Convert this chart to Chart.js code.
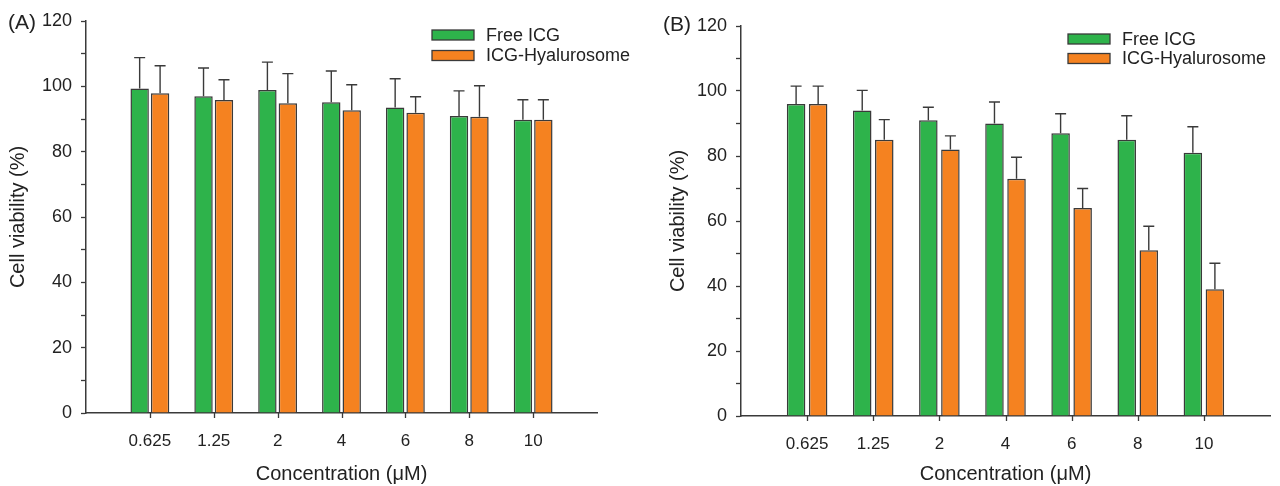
<!DOCTYPE html>
<html>
<head>
<meta charset="utf-8">
<script src="https://cdn.jsdelivr.net/npm/chart.js@4"></script>
<style>
body { margin: 0; background: #fff; }
.panel { position: absolute; top: 0; width: 640px; height: 486px; }
</style>
</head>
<body>
<div class="panel" style="left:0"><canvas id="chartA" width="640" height="486"></canvas></div>
<div class="panel" style="left:640px"><canvas id="chartB" width="640" height="486"></canvas></div>
<script>
// concentrations (uM)
const concentrations = ['0.625', '1.25', '2', '4', '6', '8', '10'];

// panel A
const freeA = [99.3, 97.0, 98.9, 95.1, 93.5, 90.9, 89.8];
const freeErrA = [9.5, 8.6, 8.5, 9.6, 8.8, 7.7, 6.1];
const hyaA = [97.9, 95.8, 94.8, 92.7, 91.9, 90.7, 89.8];
const hyaErrA = [8.4, 6.2, 9.1, 7.8, 4.9, 9.5, 6.1];

// panel B
const freeB = [96, 94, 91, 90, 87, 85, 81];
const freeErrB = [5.5, 6.2, 4.0, 6.6, 6.0, 7.4, 8.0];
const hyaB = [96, 85, 82, 73, 64, 51, 39];
const hyaErrB = [5.5, 6.2, 4.2, 6.6, 6.0, 7.4, 8.0];

const yMin = 0, yMax = 120, yStep = 10, yLabelStep = 20;

const GREEN = '#2eb34b';
const ORANGE = '#f58220';
const INK = '#222';
const LINE = '#3a3a3a';
const FONT = '"Liberation Sans", Arial, sans-serif';

Chart.defaults.font.family = FONT;
Chart.defaults.color = INK;

// one empty slot before and after the real categories
const pad = arr => [null, ...arr, null];

const errorBars = {
    id: 'errorBars',
    afterDatasetsDraw(chart) {
        const ctx = chart.ctx;
        const y = chart.scales.y;
        ctx.save();
        ctx.strokeStyle = LINE;
        ctx.lineWidth = 1.4;
        chart.data.datasets.forEach((ds, i) => {
            chart.getDatasetMeta(i).data.forEach((bar, j) => {
                const v = ds.data[j];
                if (v == null) return;
                const top = y.getPixelForValue(v + ds.errors[j]);
                ctx.beginPath();
                ctx.moveTo(bar.x, bar.y);
                ctx.lineTo(bar.x, top);
                ctx.moveTo(bar.x - 5.5, top);
                ctx.lineTo(bar.x + 5.5, top);
                ctx.stroke();
            });
        });
        ctx.restore();
    }
};

// x tick marks only under the real categories
const xTicks = {
    id: 'xTicks',
    afterDraw(chart) {
        const ctx = chart.ctx;
        const x = chart.scales.x;
        ctx.save();
        ctx.strokeStyle = LINE;
        ctx.lineWidth = 1.3;
        chart.data.labels.forEach((l, i) => {
            if (l === '') return;
            const px = Math.round(x.getPixelForTick(i)) + 0.5;
            ctx.beginPath();
            ctx.moveTo(px, x.top);
            ctx.lineTo(px, x.top + 5);
            ctx.stroke();
        });
        ctx.restore();
    }
};

const annotate = {
    id: 'annotate',
    afterDraw(chart, args, opts) {
        const ctx = chart.ctx;
        ctx.save();
        ctx.textBaseline = 'middle';
        ctx.fillStyle = INK;
        ctx.font = '21px ' + FONT;
        ctx.fillText(opts.panel, opts.panelX, opts.panelY);
        ctx.font = '18px ' + FONT;
        chart.data.datasets.forEach((ds, i) => {
            const y = opts.legendY + i * opts.legendGap;
            ctx.fillStyle = ds.backgroundColor;
            ctx.fillRect(opts.legendX, y - 5, 42, 10);
            ctx.strokeStyle = LINE;
            ctx.lineWidth = 1.3;
            ctx.strokeRect(opts.legendX, y - 5, 42, 10);
            ctx.fillStyle = INK;
            ctx.fillText(ds.label, opts.legendX + 54, y + 1);
        });
        ctx.restore();
    }
};

function makePanel(id, free, freeErr, hya, hyaErr, cfg) {
    const labels = ['', ...concentrations, ''];
    return new Chart(document.getElementById(id), {
        type: 'bar',
        data: {
            labels: labels,
            datasets: [{
                label: 'Free ICG',
                data: pad(free),
                errors: pad(freeErr),
                backgroundColor: GREEN,
                borderColor: LINE,
                borderWidth: 1.5,
                categoryPercentage: cfg.catPct,
                barPercentage: cfg.barPct
            }, {
                label: 'ICG-Hyalurosome',
                data: pad(hya),
                errors: pad(hyaErr),
                backgroundColor: ORANGE,
                borderColor: LINE,
                borderWidth: 1.5,
                categoryPercentage: cfg.catPct,
                barPercentage: cfg.barPct
            }]
        },
        options: {
            responsive: false,
            animation: false,
            devicePixelRatio: 1,
            layout: { padding: cfg.padding, autoPadding: false },
            plugins: {
                legend: { display: false },
                tooltip: { enabled: false },
                annotate: cfg.annotate
            },
            scales: {
                x: {
                    type: 'category',
                    offset: false,
                    grid: { display: false, offset: false },
                    border: { display: true, color: LINE, width: 1.5 },
                    ticks: { autoSkip: false, maxRotation: 0, padding: 10, font: { size: 17 }, color: INK },
                    title: { display: true, text: 'Concentration (μM)', font: { size: 20 }, color: INK, padding: { top: 0, bottom: 0 } },
                    afterFit: s => { s.height = cfg.xHeight; }
                },
                y: {
                    min: yMin,
                    max: yMax,
                    grid: { drawOnChartArea: false, drawTicks: true, tickLength: 5, tickWidth: 1.3, tickColor: LINE },
                    border: { color: LINE, width: 1.5 },
                    ticks: {
                        stepSize: yStep,
                        autoSkip: false,
                        padding: 9,
                        font: { size: 18 },
                        color: INK,
                        callback: v => (v % yLabelStep === 0 ? v : '')
                    },
                    title: { display: true, text: 'Cell viability (%)', font: { size: 20 }, color: INK, padding: { top: 6, bottom: 0 } },
                    afterFit: s => { s.width = cfg.yWidth; }
                }
            }
        },
        plugins: [errorBars, xTicks, annotate]
    });
}

makePanel('chartA', freeA, freeErrA, hyaA, hyaErrA, {
    padding: { left: 0, right: 43, top: 21, bottom: 0 },
    xHeight: 73,
    yWidth: 86,
    catPct: 0.64,
    barPct: 0.9,
    annotate: { panel: '(A)', panelX: 8, panelY: 23, legendX: 432, legendY: 35, legendGap: 20.5 }
});

makePanel('chartB', freeB, freeErrB, hyaB, hyaErrB, {
    padding: { left: 20, right: 10, top: 26, bottom: 0 },
    xHeight: 70,
    yWidth: 81,
    catPct: 0.667,
    barPct: 0.84,
    annotate: { panel: '(B)', panelX: 23, panelY: 25, legendX: 428, legendY: 39, legendGap: 19.5 }
});
</script>
</body>
</html>
